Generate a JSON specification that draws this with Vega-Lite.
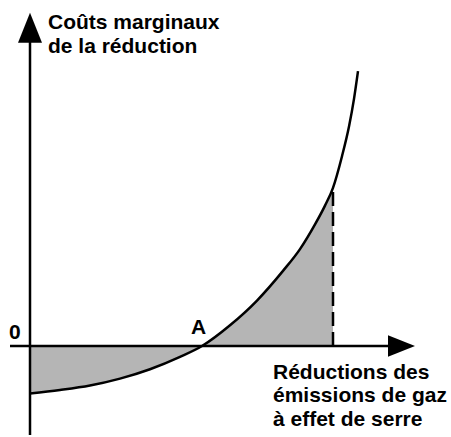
{
  "$schema": "https://vega.github.io/schema/vega-lite/v6.json",
  "width": 451,
  "height": 437,
  "autosize": {"type": "fit", "contains": "padding"},
  "padding": 0,
  "background": "white",
  "config": {"view": {"stroke": null}},
  "datasets": {
    "curve": [
      {"x": 0, "y": -48},
      {"x": 30, "y": -44.5},
      {"x": 60, "y": -40},
      {"x": 90, "y": -33},
      {"x": 120, "y": -23.5},
      {"x": 150, "y": -11},
      {"x": 172, "y": 0},
      {"x": 200, "y": 21},
      {"x": 227, "y": 46},
      {"x": 253, "y": 76},
      {"x": 270, "y": 98},
      {"x": 285, "y": 123},
      {"x": 295, "y": 142},
      {"x": 303, "y": 160},
      {"x": 312, "y": 192},
      {"x": 319, "y": 222},
      {"x": 324, "y": 250},
      {"x": 328, "y": 278}
    ],
    "labels": [
      {"x": 18, "y": 327, "t": "Coûts marginaux"},
      {"x": 18, "y": 302, "t": "de la réduction"},
      {"x": 243, "y": -27, "t": "Réductions des"},
      {"x": 243, "y": -51, "t": "émissions de gaz"},
      {"x": 243, "y": -75, "t": "à effet de serre"},
      {"x": -21, "y": 13, "t": "0"},
      {"x": 161, "y": 18, "t": "A"}
    ]
  },
  "encoding": {
    "x": {"field": "x", "type": "quantitative", "scale": {"domain": [-30, 421], "nice": false, "zero": false}, "axis": null},
    "y": {"field": "y", "type": "quantitative", "scale": {"domain": [-87, 350], "nice": false, "zero": false}, "axis": null}
  },
  "layer": [
    {
      "data": {"name": "curve"},
      "transform": [{"filter": "datum.x <= 303"}],
      "mark": {"type": "area", "color": "#b5b5b5", "interpolate": "monotone"},
      "encoding": {"y2": {"datum": 0}}
    },
    {
      "data": {"values": [{"x": -20, "x2": 362, "y": 0}]},
      "mark": {"type": "rule", "color": "black", "strokeWidth": 2.5},
      "encoding": {"x2": {"field": "x2"}}
    },
    {
      "data": {"values": [{"x": 0, "y": -90, "y2": 315}]},
      "mark": {"type": "rule", "color": "black", "strokeWidth": 2.5},
      "encoding": {"y2": {"field": "y2"}}
    },
    {
      "data": {"values": [{"x": 303, "y": 0, "y2": 160}]},
      "mark": {"type": "rule", "color": "black", "strokeWidth": 2.5, "strokeDash": [14, 6]},
      "encoding": {"y2": {"field": "y2"}}
    },
    {
      "data": {"name": "curve"},
      "mark": {"type": "line", "color": "black", "strokeWidth": 2.5, "interpolate": "monotone"}
    },
    {
      "data": {"values": [{"x": 0, "y": 322}]},
      "mark": {"type": "point", "filled": true, "color": "black", "opacity": 1, "shape": "M0,-1L0.8,1L-0.8,1Z", "size": 900}
    },
    {
      "data": {"values": [{"x": 371.5, "y": 0}]},
      "mark": {"type": "point", "filled": true, "color": "black", "opacity": 1, "shape": "M1,0L-1,-0.8L-1,0.8Z", "size": 729}
    },
    {
      "data": {"name": "labels"},
      "mark": {"type": "text", "align": "left", "baseline": "middle", "font": "Liberation Sans", "fontWeight": "bold", "fontSize": 21, "color": "black"},
      "encoding": {"text": {"field": "t"}}
    }
  ]
}
